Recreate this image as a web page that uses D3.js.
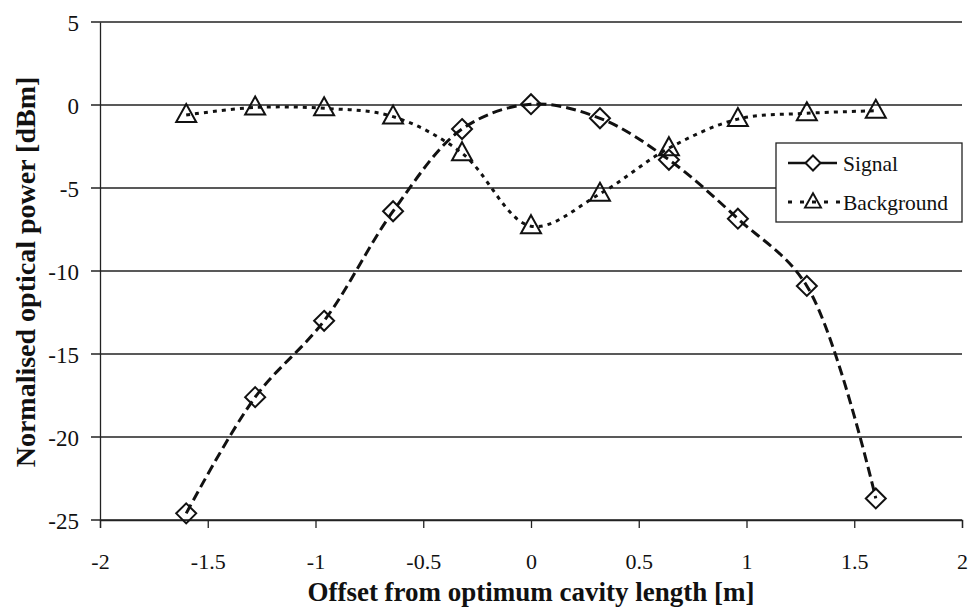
<!DOCTYPE html>
<html><head><meta charset="utf-8">
<script src="https://cdn.jsdelivr.net/npm/d3@7"></script>
<style>body{margin:0;background:#fff}svg{display:block}</style>
</head><body>
<svg id="c" width="972" height="608"></svg>
<script>
const offsets = [-1.6, -1.28, -0.96, -0.64, -0.32, 0, 0.32, 0.64, 0.96, 1.28, 1.6];
const signal = [-24.6, -17.6, -13.0, -6.4, -1.45, 0.05, -0.8, -3.3, -6.85, -10.9, -23.7];
const background = [-0.6, -0.15, -0.2, -0.7, -2.9, -7.3, -5.35, -2.6, -0.85, -0.5, -0.35];
const xTicks = [-2, -1.5, -1, -0.5, 0, 0.5, 1, 1.5, 2];
const yTicks = [5, 0, -5, -10, -15, -20, -25];
const seriesNames = ["Signal", "Background"];

const svg = d3.select("#c");
const L = 100, R = 962, T = 22, B = 520;
const x = d3.scaleLinear().domain([-2, 2]).range([L, R]);
const y = d3.scaleLinear().domain([-25, 5]).range([B, T]);
const font = "'Liberation Serif','Times New Roman',serif";
const fmt = d => String(d);

// grid lines
svg.append("g").selectAll("line").data(yTicks).join("line")
  .attr("x1", L - 9).attr("x2", R)
  .attr("y1", d => y(d)).attr("y2", d => y(d))
  .attr("stroke", "#222").attr("stroke-width", 1.3);

// y axis
const ya = svg.append("g").attr("transform", `translate(${L},0)`)
  .call(d3.axisLeft(y).tickValues(yTicks).tickSize(0).tickPadding(21).tickFormat(fmt));
ya.select(".domain").attr("stroke", "#222").attr("stroke-width", 1.3);
ya.selectAll("text").style("font-family", font).style("font-size", "23px").attr("fill", "#111").attr("dy", "0.36em");

// x axis
const xa = svg.append("g").attr("transform", `translate(0,${B})`)
  .call(d3.axisBottom(x).tickValues(xTicks).tickSize(8).tickFormat(fmt));
xa.select(".domain").attr("stroke", "#222").attr("stroke-width", 1.3);
xa.selectAll("line").attr("stroke", "#222").attr("stroke-width", 1.3);
xa.selectAll("text").style("font-family", font).style("font-size", "22px").attr("fill", "#111")
  .attr("y", 49).attr("dy", "0");

// axis titles
svg.append("text").attr("x", 531).attr("y", 601).attr("text-anchor", "middle")
  .style("font-family", font).attr("font-weight", "bold").style("font-size", "27px").attr("fill", "#111")
  .text("Offset from optimum cavity length [m]");
svg.append("text").attr("transform", "translate(35,272) rotate(-90)").attr("text-anchor", "middle")
  .style("font-family", font).attr("font-weight", "bold").style("font-size", "28px").attr("fill", "#111")
  .text("Normalised optical power [dBm]");

const line = d3.line().x(d => x(d[0])).y(d => y(d[1])).curve(d3.curveCatmullRom.alpha(0.5));
const sigData = offsets.map((o, i) => [o, signal[i]]);
const bgData = offsets.map((o, i) => [o, background[i]]);

svg.append("path").datum(bgData).attr("d", line).attr("fill", "none")
  .attr("stroke", "#111").attr("stroke-width", 3).attr("stroke-dasharray", "4,5");
svg.append("path").datum(sigData).attr("d", line).attr("fill", "none")
  .attr("stroke", "#111").attr("stroke-width", 3).attr("stroke-dasharray", "10,5");

const diamond = "M0,-10L10,0L0,10L-10,0Z";
const triangle = "M0,-11L10,7L-10,7Z";

svg.append("g").selectAll("path").data(bgData).join("path")
  .attr("transform", d => `translate(${x(d[0])},${y(d[1])})`)
  .attr("d", triangle).attr("fill", "none").attr("stroke", "#111").attr("stroke-width", 2);
svg.append("g").selectAll("path").data(sigData).join("path")
  .attr("transform", d => `translate(${x(d[0])},${y(d[1])})`)
  .attr("d", diamond).attr("fill", "none").attr("stroke", "#111").attr("stroke-width", 2);

// legend
const lg = svg.append("g");
lg.append("rect").attr("x", 776).attr("y", 143).attr("width", 186).attr("height", 79)
  .attr("fill", "#fff").attr("stroke", "#222").attr("stroke-width", 1.3);
const rows = [163, 202];
lg.append("line").attr("x1", 788).attr("x2", 837).attr("y1", rows[0]).attr("y2", rows[0])
  .attr("stroke", "#111").attr("stroke-width", 2.5);
lg.append("path").attr("transform", `translate(813,${rows[0]}) scale(0.75)`).attr("d", diamond)
  .attr("fill", "#fff").attr("stroke", "#111").attr("stroke-width", 2.6);
lg.append("line").attr("x1", 788).attr("x2", 840).attr("y1", rows[1]).attr("y2", rows[1])
  .attr("stroke", "#111").attr("stroke-width", 3).attr("stroke-dasharray", "4,8");
lg.append("path").attr("transform", `translate(813,${rows[1]}) scale(0.8)`).attr("d", triangle)
  .attr("fill", "none").attr("stroke", "#111").attr("stroke-width", 2.4);
lg.selectAll("text.l").data(seriesNames).join("text").attr("class", "l")
  .attr("x", 843).attr("y", (d, i) => rows[i] + 8)
  .style("font-family", font).style("font-size", "21.5px").attr("fill", "#111").text(d => d);
</script>
</body></html>
